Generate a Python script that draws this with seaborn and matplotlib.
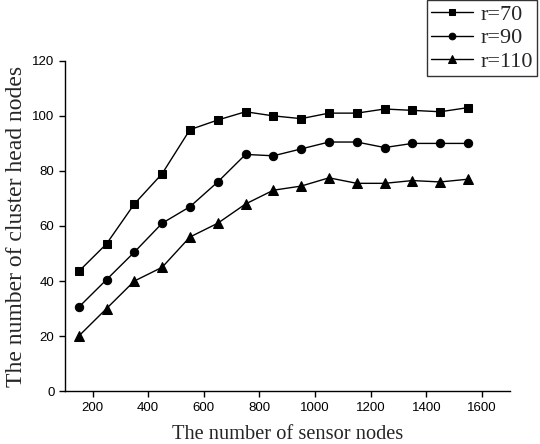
import matplotlib
matplotlib.use("Agg")
import matplotlib.pyplot as plt
import seaborn as sns
import pandas as pd

nodes = [150, 250, 350, 450, 550, 650, 750, 850, 950, 1050, 1150, 1250, 1350, 1450, 1550]
r70 = [43.5, 53.5, 68, 79, 95, 98.5, 101.5, 100, 99, 101, 101, 102.5, 102, 101.5, 103]
r90 = [30.5, 40.5, 50.5, 61, 67, 76, 86, 85.5, 88, 90.5, 90.5, 88.5, 90, 90, 90]
r110 = [20, 30, 40, 45, 56, 61, 68, 73, 74.5, 77.5, 75.5, 75.5, 76.5, 76, 77]
labels = ["r=70", "r=90", "r=110"]

sns.set_style("ticks")
df = pd.DataFrame({
    "x": nodes * 3,
    "y": r70 + r90 + r110,
    "series": [labels[0]] * 15 + [labels[1]] * 15 + [labels[2]] * 15,
})

fig = plt.figure(figsize=(5.4, 4.44), dpi=100)
ax = fig.add_axes([0.12, 0.119, 0.824, 0.744])
markers = {"r=70": "s", "r=90": "o", "r=110": "^"}
sizes = {"r=70": 5.2, "r=90": 6, "r=110": 7.5}
for lab in labels:
    sub = df[df.series == lab]
    sns.lineplot(data=sub, x="x", y="y", ax=ax, color="black", lw=1,
                 marker=markers[lab], markersize=sizes[lab], markeredgecolor="black",
                 label=lab)

ax.set_xlim(100, 1700)
ax.set_ylim(0, 120)
ax.set_xticks([200, 400, 600, 800, 1000, 1200, 1400, 1600])
ax.set_yticks([0, 20, 40, 60, 80, 100, 120])
sns.despine(ax=ax)
for s in ["left", "bottom"]:
    ax.spines[s].set_linewidth(1.0)
    ax.spines[s].set_color("black")
ax.tick_params(direction="out", length=4, width=1, colors="black", labelsize=9.5)
for t in ax.get_xticklabels() + ax.get_yticklabels():
    t.set_fontfamily("Liberation Sans")
ax.set_xlabel("The number of sensor nodes", fontfamily="Liberation Serif", fontsize=14.7, labelpad=8)
ax.set_ylabel("The number of cluster head nodes", fontfamily="Liberation Serif", fontsize=17, labelpad=4)

leg = ax.legend(loc="lower right", bbox_to_anchor=(537 / 540, 1 - 76 / 444),
                bbox_transform=fig.transFigure, frameon=True, fancybox=False,
                edgecolor="black", prop={"family": "Liberation Serif", "size": 16},
                handlelength=1.9, borderpad=0.2, labelspacing=0.12, handletextpad=0.3,
                borderaxespad=0, markerscale=0.8)
leg.get_frame().set_linewidth(1.0)

fig.savefig("out.png", dpi=100)
